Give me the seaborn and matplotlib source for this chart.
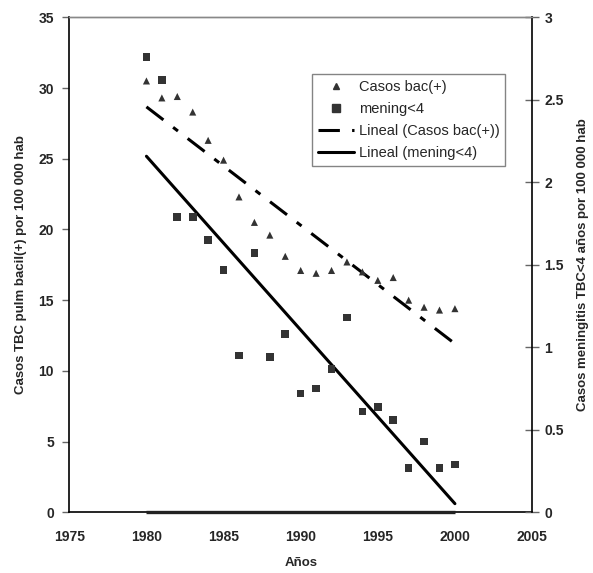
import numpy as np
import pandas as pd
import matplotlib
matplotlib.use("Agg")
import matplotlib.pyplot as plt
import seaborn as sns
from matplotlib.lines import Line2D

# data
years = list(range(1980, 2001))
casos_bac = [30.5, 29.3, 29.4, 28.3, 26.3, 24.9, 22.3, 20.5, 19.6, 18.1, 17.1,
             16.9, 17.1, 17.7, 17.0, 16.4, 16.6, 15.0, 14.5, 14.3, 14.4]
mening = [2.76, 2.62, 1.79, 1.79, 1.65, 1.47, 0.95, 1.57, 0.94, 1.08, 0.72,
          0.75, 0.87, 1.18, 0.61, 0.64, 0.56, 0.27, 0.43, 0.27, 0.29]

left_ticks = [0, 5, 10, 15, 20, 25, 30, 35]
right_ticks = [0, 0.5, 1, 1.5, 2, 2.5, 3]
x_ticks = [1975, 1980, 1985, 1990, 1995, 2000, 2005]

df = pd.DataFrame({"year": years, "casos": casos_bac, "mening": mening})

sns.set_style("white")
plt.rcParams["font.family"] = ["Liberation Sans", "DejaVu Sans"]

fig = plt.figure(figsize=(5.93, 5.73), dpi=100)
ax = fig.add_axes([0.1169, 0.1059, 0.7803, 0.8639])
ax2 = ax.twinx()

mark_col = "#333333"
dash_style = (0, (7, 4, 2, 4))

sns.scatterplot(data=df, x="year", y="casos", ax=ax, marker="^", s=26,
                color=mark_col, edgecolor="none", legend=False, zorder=3)
sns.regplot(data=df, x="year", y="casos", ax=ax, scatter=False, ci=None,
            color="black", line_kws={"linewidth": 2.2, "linestyle": dash_style})

sns.scatterplot(data=df, x="year", y="mening", ax=ax2, marker="s", s=30,
                color=mark_col, edgecolor="none", legend=False, zorder=3)
sns.regplot(data=df, x="year", y="mening", ax=ax2, scatter=False, ci=None,
            color="black", line_kws={"linewidth": 2.2})

# heavy baseline under the data range
ax.hlines(0, min(years), max(years), color="#222222", linewidth=2.4, zorder=4,
          clip_on=False)

ax.set_xlim(1975, 2005)
ax.set_ylim(0, 35)
ax2.set_ylim(0, 3)
ax.set_xticks(x_ticks)
ax.set_yticks(left_ticks)
ax2.set_yticks(right_ticks)
ax2.set_yticklabels([f"{t:g}" for t in right_ticks])

for lab in ax.get_xticklabels() + ax.get_yticklabels() + ax2.get_yticklabels():
    lab.set_fontsize(10)
    lab.set_fontweight("bold")

ax.tick_params(axis="x", direction="out", length=5, width=1, color="black", pad=8)
ax.tick_params(axis="y", direction="out", length=5, width=1, color="#666666", pad=6)
ax2.tick_params(axis="y", direction="inout", length=10, width=1, color="#666666", pad=4)

for a in (ax, ax2):
    a.grid(False)
    for side in ("left", "bottom", "right"):
        a.spines[side].set_color("black")
        a.spines[side].set_linewidth(1.2)
    a.spines["top"].set_color("#888888")
    a.spines["top"].set_linewidth(1)
ax.spines["right"].set_visible(False)
ax2.spines["left"].set_visible(False)
ax2.spines["bottom"].set_visible(False)

ax.set_xlabel("Años", fontsize=9.5, fontweight="bold", labelpad=9)
ax.set_ylabel("Casos TBC pulm bacil(+) por 100 000 hab", fontsize=9.5,
              fontweight="bold", labelpad=8)
ax2.set_ylabel("Casos meningitis TBC<4 años por 100 000 hab", fontsize=9.5,
               fontweight="bold", labelpad=9, rotation=90)

handles = [
    Line2D([], [], marker="^", color=mark_col, linestyle="none", markersize=5),
    Line2D([], [], marker="s", color=mark_col, linestyle="none", markersize=5.5),
    Line2D([], [], color="black", linewidth=2.2, linestyle=dash_style),
    Line2D([], [], color="black", linewidth=2.2),
]
labels = ["Casos bac(+)", "mening<4", "Lineal (Casos bac(+))", "Lineal (mening<4)"]
leg = ax2.legend(handles, labels, loc="upper left", bbox_to_anchor=(0.5245, 0.8855),
                 borderaxespad=0, frameon=True, fancybox=False, fontsize=10.5,
                 handlelength=2.5, handletextpad=0.3, labelspacing=0.55,
                 borderpad=0.4)
leg.get_frame().set_edgecolor("#666666")
leg.get_frame().set_linewidth(1)

fig.savefig("out.png", dpi=100)
